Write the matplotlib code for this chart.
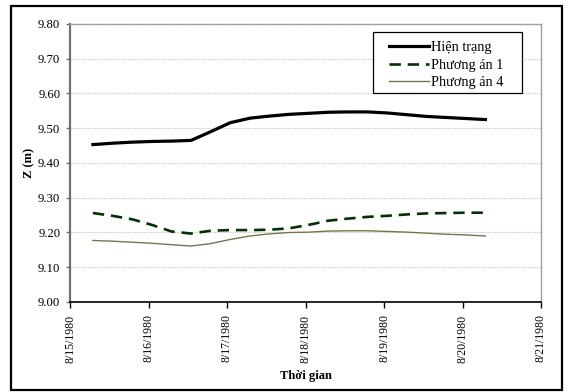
import matplotlib
matplotlib.use("Agg")
import matplotlib.pyplot as plt
from matplotlib.patches import Rectangle
from matplotlib.legend_handler import HandlerLine2D
import pandas as pd

plt.rcParams['font.family'] = ['Liberation Serif', 'DejaVu Serif']

# Water level time series, 6-hourly from 8/15/1980 07:00
times = pd.date_range("1980-08-15 07:00", periods=21, freq="6h")
hien_trang = [9.453, 9.457, 9.460, 9.462, 9.463, 9.465, 9.490, 9.516, 9.529, 9.535,
              9.540, 9.543, 9.546, 9.547, 9.547, 9.544, 9.539, 9.534, 9.531, 9.528, 9.525]
phuong_an_1 = [9.256, 9.248, 9.238, 9.222, 9.203, 9.197, 9.205, 9.207, 9.207, 9.208,
               9.212, 9.222, 9.234, 9.240, 9.245, 9.248, 9.252, 9.255, 9.256, 9.257, 9.257]
phuong_an_4 = [9.177, 9.175, 9.172, 9.169, 9.165, 9.161, 9.168, 9.180, 9.190, 9.196,
               9.200, 9.201, 9.204, 9.205, 9.205, 9.203, 9.201, 9.198, 9.195, 9.193, 9.190]

series_names = ["Hiện trạng", "Phương án 1", "Phương án 4"]
x_ticks = pd.date_range("1980-08-15", "1980-08-21", freq="D")
x_tick_labels = ["8/15/1980", "8/16/1980", "8/17/1980", "8/18/1980",
                 "8/19/1980", "8/20/1980", "8/21/1980"]
y_ticks = [9.00, 9.10, 9.20, 9.30, 9.40, 9.50, 9.60, 9.70, 9.80]

W, H = 573, 392
fig = plt.figure(figsize=(W / 100, H / 100), dpi=100)
ax = fig.add_axes([70 / W, 90 / H, 471 / W, 278 / H])

ax.plot(times, hien_trang, color="black", lw=2.3, label=series_names[0])
ax.plot(times, phuong_an_1, color="#003300", lw=1.9, dashes=(4.3, 2.6), label=series_names[1])
ax.plot(times, phuong_an_4, color="#76764a", lw=1.0, label=series_names[2])

ax.set_xlim(x_ticks[0], x_ticks[-1])
ax.set_ylim(9.0, 9.8)
ax.set_xticks(x_ticks)
ax.set_xticklabels(x_tick_labels, rotation=90, fontsize=8.5)
ax.set_yticks(y_ticks)
ax.set_yticklabels([f"{v:.2f}" for v in y_ticks], fontsize=9.2)

ax.grid(axis="y", color="#c4c4c4", lw=0.8, ls=(0, (1, 1)))
ax.set_axisbelow(True)
for side in ["top", "right"]:
    ax.spines[side].set_color("#a0a0a0")
    ax.spines[side].set_linewidth(1.0)
ax.spines["left"].set_color("#707070")
ax.spines["left"].set_linewidth(1.6)
ax.spines["bottom"].set_color("black")
ax.spines["bottom"].set_linewidth(1.2)
ax.tick_params(axis="x", direction="out", length=4, width=1, pad=5)
ax.tick_params(axis="y", direction="out", length=3, width=1, color="#707070", pad=4)

ax.set_xlabel("Thời gian", fontsize=9, fontweight="bold", labelpad=5)
ax.set_ylabel("Z (m)", fontsize=9, fontweight="bold", labelpad=2)


class ShiftedLine(HandlerLine2D):
    """Line handle drawn with extra room on its left side."""
    def create_artists(self, legend, orig_handle, xdescent, ydescent, width, height,
                       fontsize, trans):
        off = 1.15 * fontsize
        return super().create_artists(legend, orig_handle, xdescent - off, ydescent,
                                      width - off, height, fontsize, trans)


handles, labels = ax.get_legend_handles_labels()
leg = fig.legend(handles, labels, loc="upper left",
                 bbox_to_anchor=(373 / W, 1 - 41 / H), fontsize=10.3,
                 frameon=False, handlelength=3.9, handletextpad=0.12,
                 borderpad=0.0, labelspacing=0.32, borderaxespad=0,
                 handler_map={h: ShiftedLine() for h in handles})

# Legend box
fig.patches.append(Rectangle((373 / W, 1 - 93 / H), 149 / W, 61 / H,
                             transform=fig.transFigure, fill=True, facecolor="white",
                             edgecolor="black", lw=0.9, zorder=0.5))
leg.set_zorder(3)

# Outer chart frame
fig.patches.append(Rectangle((11 / W, 2 / H), 551 / W, 384 / H, transform=fig.transFigure,
                             fill=False, edgecolor="black", lw=1.6))

fig.savefig("out.png", dpi=100)
